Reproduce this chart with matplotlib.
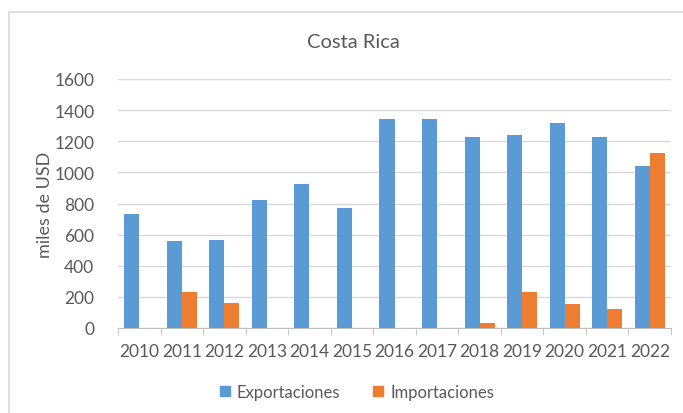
import numpy as np
import matplotlib.pyplot as plt
from matplotlib.patches import Rectangle, Patch

# datos (miles de USD)
years = ['2010', '2011', '2012', '2013', '2014', '2015', '2016',
         '2017', '2018', '2019', '2020', '2021', '2022']
exportaciones = [735, 560, 566, 823, 928, 770, 1342, 1342, 1230, 1239, 1318, 1230, 1044]
importaciones = [0, 229, 159, 0, 0, 0, 0, 0, 30, 229, 152, 124, 1127]

blue = '#5B9BD5'
orange = '#ED7D31'
txt = '#595959'

plt.rcParams['font.family'] = ['Lato', 'DejaVu Sans']

fig = plt.figure(figsize=(6.83, 4.14), dpi=100)
ax = fig.add_axes([118 / 683, 85 / 414, 553 / 683, 249 / 414])

# marco del grafico
fig.patches.append(Rectangle((9 / 683, -0.1), 1.2, 0.1 + 401 / 414,
                             transform=fig.transFigure, fill=False,
                             edgecolor='#D9D9D9', lw=1.2))

x = np.arange(len(years))
w = 0.353
ax.bar(x - w / 2, exportaciones, w, color=blue, zorder=3)
ax.bar(x + w / 2, importaciones, w, color=orange, zorder=3)

ax.set_xlim(-0.5, len(years) - 0.5)
ax.set_ylim(0, 1600)
ax.set_yticks(range(0, 1601, 200))
ax.grid(axis='y', color='#D9D9D9', lw=1, zorder=0)

for s in ['top', 'right', 'left']:
    ax.spines[s].set_visible(False)
ax.spines['bottom'].set_color('#BFBFBF')

ax.set_xticks(x)
ax.set_xticklabels(years)
ax.set_xticks(np.arange(-0.5, len(years)), minor=True)
ax.tick_params(axis='x', which='major', length=0, pad=11, labelsize=12.5, labelcolor=txt)
ax.tick_params(axis='x', which='minor', length=5, color='#BFBFBF')
ax.tick_params(axis='y', length=0, pad=17, labelsize=12.5, labelcolor=txt)

ax.set_ylabel('miles de USD', fontsize=13, color=txt, va='center')
ax.yaxis.set_label_coords(-73 / 553, 0.5)

fig.text(353 / 683, 1 - 43 / 414, 'Costa Rica', ha='center', va='center',
         fontsize=14.5, color=txt)

handles = [Patch(color=blue, label='Exportaciones'),
           Patch(color=orange, label='Importaciones')]
fig.legend(handles=handles, loc='center', bbox_to_anchor=(357 / 683, 21 / 414),
           ncol=2, frameon=False, fontsize=12, labelcolor=txt,
           handlelength=0.6, handleheight=0.6, handletextpad=0.4,
           columnspacing=2.0)

plt.savefig('out.png', dpi=100)
